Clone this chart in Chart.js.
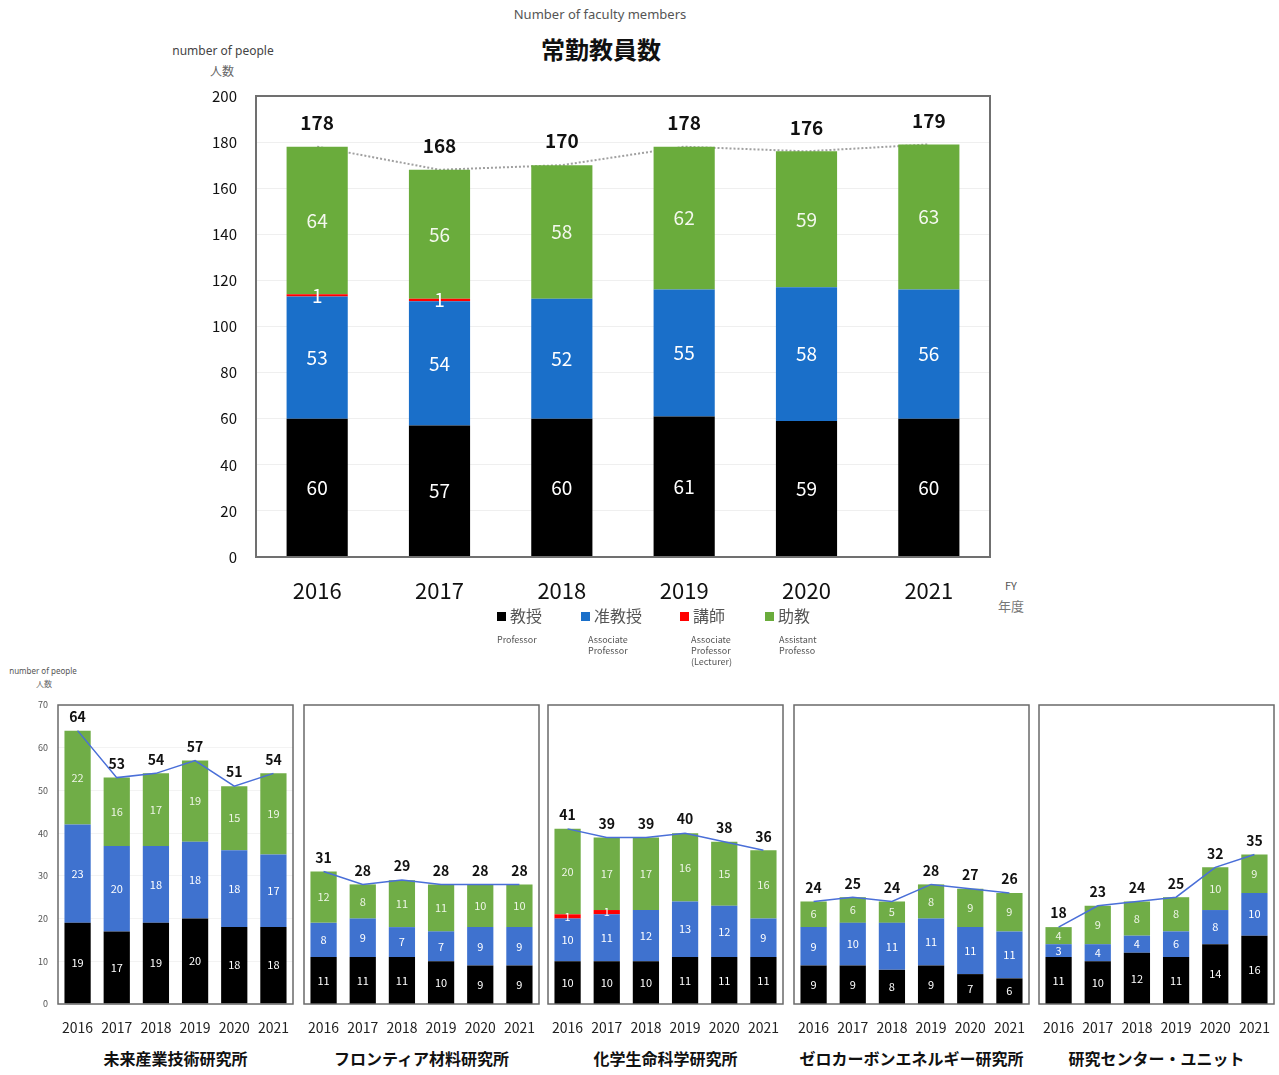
<!DOCTYPE html>
<html lang="ja">
<head>
<meta charset="utf-8">
<title>常勤教員数</title>
<script src="https://cdn.jsdelivr.net/npm/chart.js@4.4.1/dist/chart.umd.min.js"></script>
<style>
  body {
    margin: 0;
    width: 1279px;
    height: 1075px;
    position: relative;
    overflow: hidden;
    background: #fff;
    font-family: "Noto Sans CJK JP", "Noto Sans", sans-serif;
    color: #222;
  }
  .box { position: absolute; }
  .t { position: absolute; white-space: nowrap; transform: translate(-50%, -50%); }
  .lg { position: absolute; white-space: nowrap; font-size: 16px; color: #555; transform: translateY(-50%); }
  .lg i { display: inline-block; width: 9px; height: 9px; margin-right: 4px; vertical-align: 1px; }
  .en { position: absolute; font-size: 9px; line-height: 11px; color: #555; }
</style>
</head>
<body>

<div class="t" style="left:600px;top:14px;font-size:13px;color:#555;font-family:'Noto Sans',sans-serif;">Number of faculty members</div>
<div class="t" style="left:601px;top:48px;font-size:24px;font-weight:bold;color:#111;">常勤教員数</div>
<div class="t" style="left:223px;top:50px;font-size:12px;color:#444;font-family:'Noto Sans',sans-serif;">number of people</div>
<div class="t" style="left:222px;top:70px;font-size:12px;color:#666;">人数</div>
<div class="t" style="left:1011px;top:585px;font-size:11px;color:#555;">FY</div>
<div class="t" style="left:1011px;top:605px;font-size:13px;color:#777;">年度</div>

<div class="box" style="left:180px;top:80px;"><canvas id="mainChart" width="830" height="527"></canvas></div>

<div class="lg" style="left:497px;top:615px;"><i style="background:#000"></i>教授</div>
<div class="lg" style="left:581px;top:615px;"><i style="background:#1a6fc9"></i>准教授</div>
<div class="lg" style="left:680px;top:615px;"><i style="background:#ff0000"></i>講師</div>
<div class="lg" style="left:765px;top:615px;"><i style="background:#6aac3c"></i>助教</div>
<div class="en" style="left:497px;top:634px;">Professor</div>
<div class="en" style="left:588px;top:634px;">Associate<br>Professor</div>
<div class="en" style="left:691px;top:634px;">Associate<br>Professor<br>(Lecturer)</div>
<div class="en" style="left:779px;top:634px;">Assistant<br>Professo</div>

<div class="t" style="left:43px;top:670px;font-size:8px;color:#555;font-family:'Noto Sans',sans-serif;">number of people</div>
<div class="t" style="left:44px;top:683px;font-size:8px;color:#666;">人数</div>

<div id="units"></div>

<script>
// fiscal years
const years = ["2016", "2017", "2018", "2019", "2020", "2021"];

// whole university
const professor = [60, 57, 60, 61, 59, 60];
const associate = [53, 54, 52, 55, 58, 56];
const lecturer  = [1, 1, 0, 0, 0, 0];
const assistant = [64, 56, 58, 62, 59, 63];
const mainTicks = [0, 20, 40, 60, 80, 100, 120, 140, 160, 180, 200];

// research institutes, one row per unit
const unitNames = ["未来産業技術研究所", "フロンティア材料研究所", "化学生命科学研究所", "ゼロカーボンエネルギー研究所", "研究センター・ユニット"];
const unitProfessor = [
  [19, 17, 19, 20, 18, 18],
  [11, 11, 11, 10, 9, 9],
  [10, 10, 10, 11, 11, 11],
  [9, 9, 8, 9, 7, 6],
  [11, 10, 12, 11, 14, 16]
];
const unitAssociate = [
  [23, 20, 18, 18, 18, 17],
  [8, 9, 7, 7, 9, 9],
  [10, 11, 12, 13, 12, 9],
  [9, 10, 11, 11, 11, 11],
  [3, 4, 4, 6, 8, 10]
];
const unitLecturer = [
  [0, 0, 0, 0, 0, 0],
  [0, 0, 0, 0, 0, 0],
  [1, 1, 0, 0, 0, 0],
  [0, 0, 0, 0, 0, 0],
  [0, 0, 0, 0, 0, 0]
];
const unitAssistant = [
  [22, 16, 17, 19, 15, 19],
  [12, 8, 11, 11, 10, 10],
  [20, 17, 17, 16, 15, 16],
  [6, 6, 5, 8, 9, 9],
  [4, 9, 8, 8, 10, 9]
];
const unitTicks = [0, 10, 20, 30, 40, 50, 60, 70];

const sumOf = (...rows) => rows[0].map((_, i) => rows.reduce((s, r) => s + r[i], 0));

// fixed axis sizes, and no extra room for labels hanging past the ends
const fixX = (h) => (s) => { s.height = h; s.paddingLeft = 0; s.paddingRight = 0; };
const fixY = (w) => (s) => { s.width = w; s.paddingTop = 0; s.paddingBottom = 0; };

// box around the plot area
const framePlugin = (color, width) => ({
  id: "frame",
  afterDraw(chart) {
    const { left, top, width: w, height: h } = chart.chartArea;
    const c = chart.ctx;
    c.save();
    c.strokeStyle = color;
    c.lineWidth = width;
    c.strokeRect(left, top, w, h);
    c.restore();
  }
});

// values inside each segment, totals above the line points
const labelPlugin = (cfg) => ({
  id: "segLabels",
  afterDatasetsDraw(chart) {
    const c = chart.ctx;
    c.save();
    c.textAlign = "center";
    c.textBaseline = "middle";
    chart.data.datasets.forEach((ds, i) => {
      const meta = chart.getDatasetMeta(i);
      meta.data.forEach((el, j) => {
        const v = ds.data[j];
        if (!v) return;
        if (ds.type === "line") {
          c.font = cfg.totalFont;
          c.fillStyle = "#111";
          c.fillText(v, el.x, el.y - cfg.totalOffset);
        } else {
          c.font = cfg.segFont;
          c.fillStyle = ds.labelColor || "#fff";
          c.fillText(v, el.x, (el.y + el.base) / 2);
        }
      });
    });
    c.restore();
  }
});

const fontStack = "'Noto Sans CJK JP', 'Noto Sans', sans-serif";

new Chart(document.getElementById("mainChart"), {
  type: "bar",
  data: {
    labels: years,
    datasets: [
      { label: "教授", data: professor, backgroundColor: "#000000" },
      { label: "准教授", data: associate, backgroundColor: "#1a6fc9" },
      { label: "講師", data: lecturer, backgroundColor: "#ff0000" },
      { label: "助教", data: assistant, backgroundColor: "#6aac3c", labelColor: "#f4f8ee" },
      {
        type: "line", label: "合計", data: sumOf(professor, associate, lecturer, assistant),
        borderColor: "#a0a0a0", borderWidth: 2, borderDash: [2, 2], pointRadius: 0, order: 10
      }
    ]
  },
  options: {
    responsive: false,
    animation: false,
    events: [],
    layout: { padding: { top: 16, right: 20, left: 0, bottom: 0 } },
    plugins: { legend: { display: false }, tooltip: { enabled: false } },
    datasets: { bar: { categoryPercentage: 1, barPercentage: 0.5 } },
    scales: {
      x: {
        stacked: true,
        grid: { display: false, drawTicks: false },
        border: { display: false },
        ticks: { padding: 20, color: "#111", font: { family: fontStack, size: 22 }, maxRotation: 0 },
        afterFit: fixX(50)
      },
      y: {
        stacked: true,
        min: 0,
        max: 200,
        afterBuildTicks(s) { s.ticks = mainTicks.map(v => ({ value: v })); },
        grid: { color: "#efefef", drawTicks: false },
        border: { display: false },
        ticks: { padding: 19, color: "#111", font: { family: fontStack, size: 15 } },
        afterFit: fixY(76)
      }
    }
  },
  plugins: [framePlugin("#707070", 2), labelPlugin({ segFont: "19px " + fontStack, totalFont: "bold 19px " + fontStack, totalOffset: 24 })]
});

// small charts for each institute
const boxLeft = [58, 304, 548, 794, 1039];
const boxWidth = 235;
const holder = document.getElementById("units");

unitNames.forEach((name, u) => {
  const first = u === 0;
  const canvasLeft = first ? 0 : boxLeft[u] - 3;
  const canvasWidth = first ? boxLeft[u] + boxWidth + 3 : boxWidth + 6;

  const wrap = document.createElement("div");
  wrap.className = "box";
  wrap.style.left = canvasLeft + "px";
  wrap.style.top = "690px";
  const cv = document.createElement("canvas");
  cv.width = canvasWidth;
  cv.height = 355;
  wrap.appendChild(cv);
  holder.appendChild(wrap);

  const title = document.createElement("div");
  title.className = "t";
  title.style.left = (boxLeft[u] + boxWidth / 2) + "px";
  title.style.top = "1058px";
  title.style.fontSize = "16px";
  title.style.fontWeight = "bold";
  title.style.color = "#111";
  title.textContent = name;
  holder.appendChild(title);

  new Chart(cv, {
    type: "bar",
    data: {
      labels: years,
      datasets: [
        { label: "教授", data: unitProfessor[u], backgroundColor: "#000000" },
        { label: "准教授", data: unitAssociate[u], backgroundColor: "#3f72cf" },
        { label: "講師", data: unitLecturer[u], backgroundColor: "#ff0000" },
        { label: "助教", data: unitAssistant[u], backgroundColor: "#70ad47", labelColor: "#eef5e6" },
        {
          type: "line", label: "合計", data: sumOf(unitProfessor[u], unitAssociate[u], unitLecturer[u], unitAssistant[u]),
          borderColor: "#4a6fd8", borderWidth: 1.5, pointRadius: 0, order: -1
        }
      ]
    },
    options: {
      responsive: false,
      animation: false,
      events: [],
      layout: { padding: { top: 15, right: 3, left: first ? 0 : 3, bottom: 0 } },
      plugins: { legend: { display: false }, tooltip: { enabled: false } },
      datasets: { bar: { categoryPercentage: 1, barPercentage: 0.67 } },
      scales: {
        x: {
          stacked: true,
          grid: { display: false, drawTicks: false },
          border: { display: false },
          ticks: { padding: 15, color: "#222", font: { family: fontStack, size: 14 }, maxRotation: 0, autoSkip: false },
          afterFit: fixX(41)
        },
        y: {
          display: first,
          stacked: true,
          min: 0,
          max: 70,
          afterBuildTicks(s) { s.ticks = unitTicks.map(v => ({ value: v })); },
          grid: { color: "#f3f3f3", drawTicks: false },
          border: { display: false },
          ticks: { padding: 10, color: "#555", font: { family: fontStack, size: 9 } },
          afterFit: first ? fixY(58) : undefined
        }
      }
    },
    plugins: [framePlugin("#6a6a6a", 1.5), labelPlugin({ segFont: "11px " + fontStack, totalFont: "bold 14px " + fontStack, totalOffset: 14 })]
  });
});
</script>
</body>
</html>
